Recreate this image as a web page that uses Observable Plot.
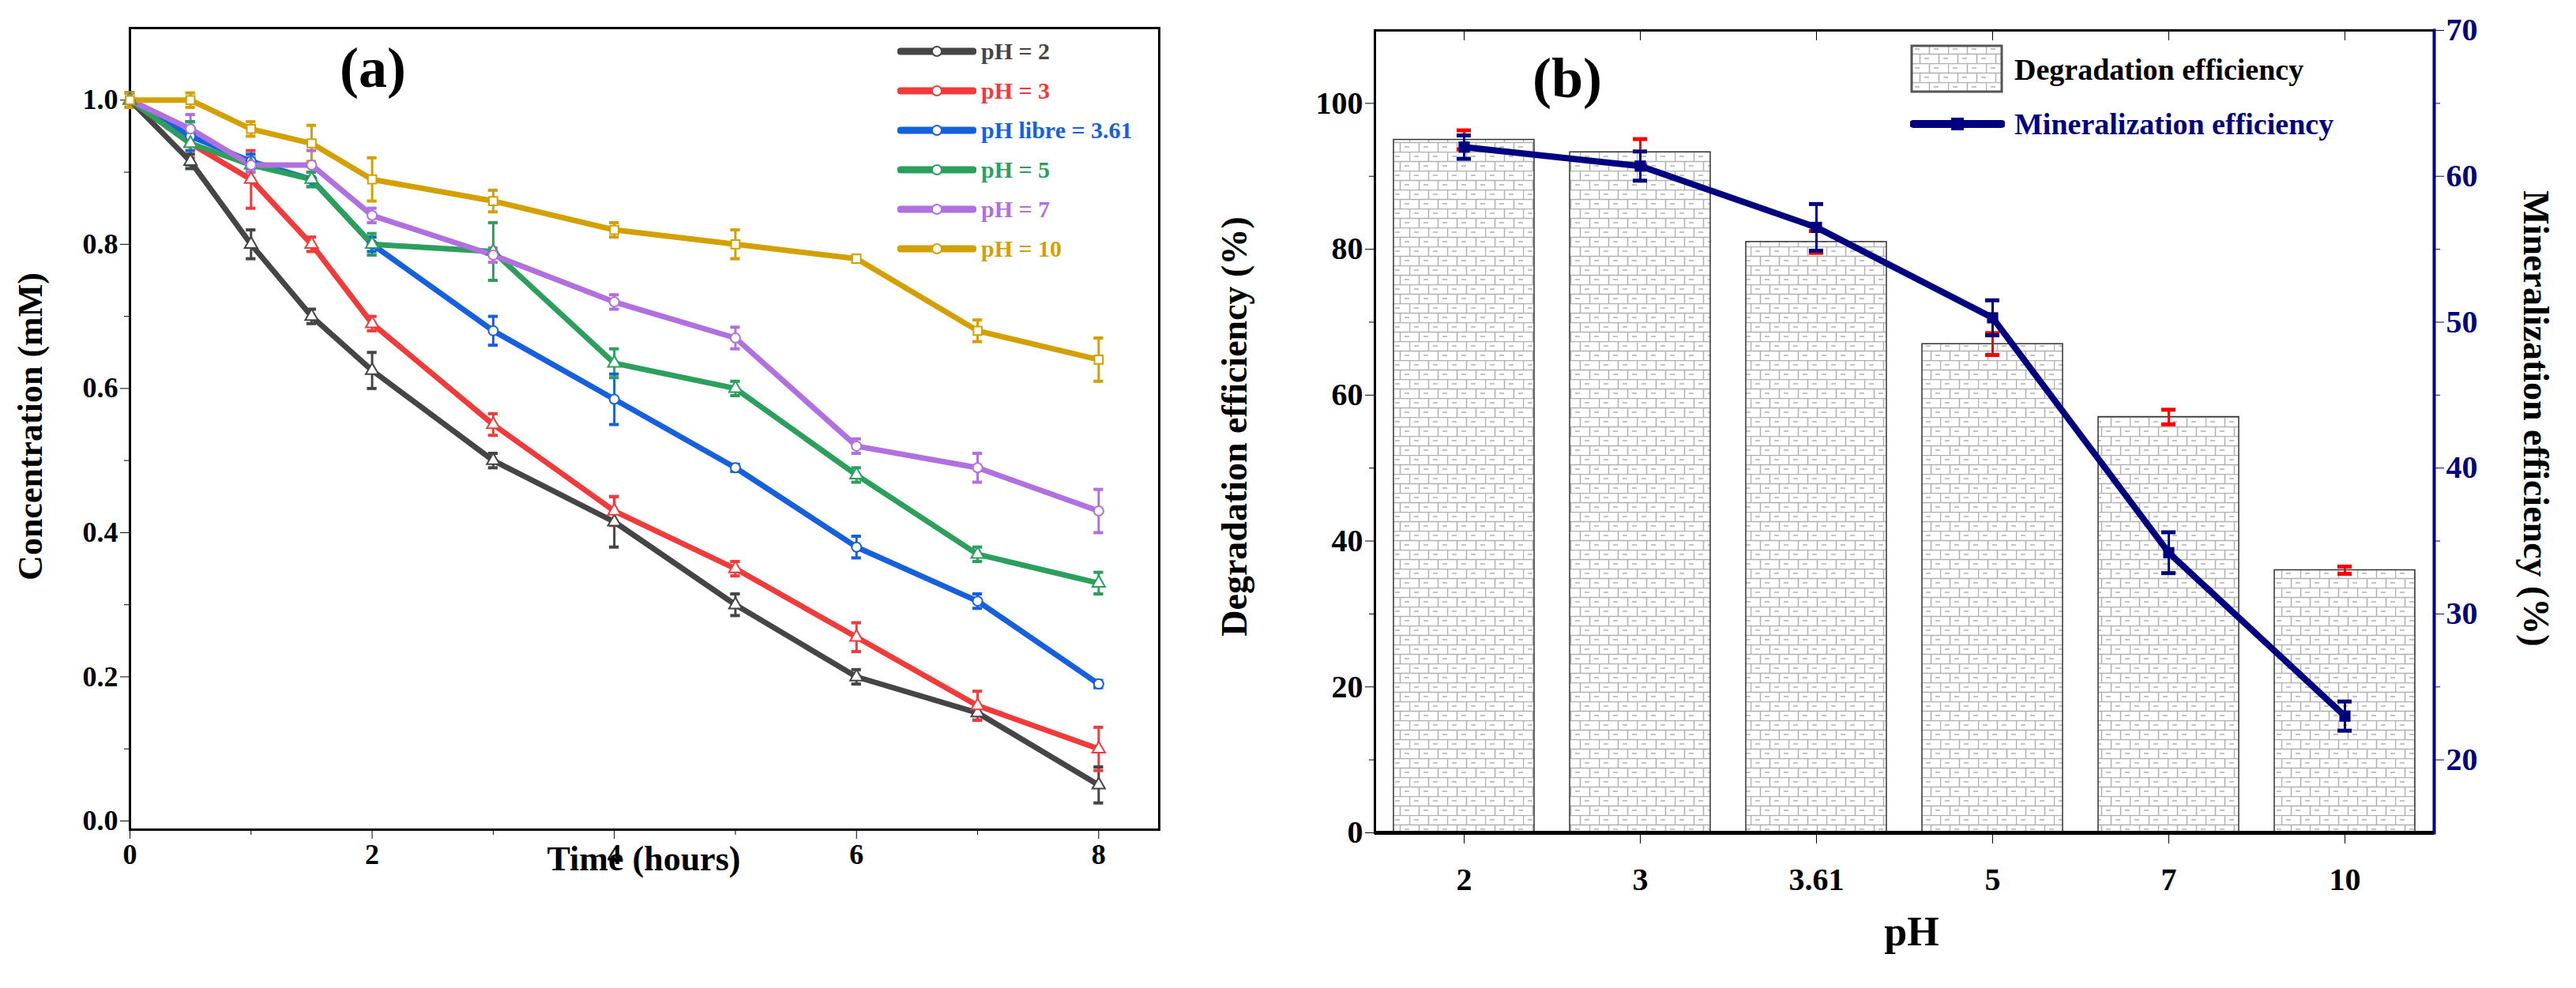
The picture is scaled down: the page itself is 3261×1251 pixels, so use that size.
<!DOCTYPE html>
<html><head><meta charset="utf-8">
<script src="https://cdn.jsdelivr.net/npm/d3@7"></script>
<script src="https://cdn.jsdelivr.net/npm/@observablehq/plot@0.6"></script>
<style>
body{margin:0;background:#fff;width:3261px;height:1251px;position:relative;overflow:hidden;font-family:"Liberation Serif","DejaVu Serif",serif;}
.p{position:absolute;top:0}
.lg{position:absolute;font-weight:bold;white-space:nowrap}
</style></head><body>
<div id="a" class="p" style="left:0"></div>
<div id="b" class="p" style="left:1640px"></div>
<script>
const times = [0,0.5,1,1.5,2,3,4,5,6,7,8];
const seriesNames = ["pH = 2","pH = 3","pH libre = 3.61","pH = 5","pH = 7","pH = 10"];
const seriesColors = ["#454545","#f23a3a","#1560e0","#2aa05c","#b070e0","#d4a000"];
const seriesSymbols = ["triangle","triangle","circle","triangle","circle","square"];
const conc = [
 [1.0,0.915,0.80,0.70,0.625,0.50,0.415,0.30,0.20,0.15,0.05],
 [1.0,0.94,0.89,0.80,0.69,0.55,0.43,0.35,0.255,0.16,0.10],
 [1.0,0.95,0.915,0.89,0.80,0.68,0.585,0.49,0.38,0.305,0.19],
 [1.0,0.94,0.91,0.89,0.80,0.79,0.635,0.60,0.48,0.37,0.33],
 [1.0,0.96,0.91,0.91,0.84,0.785,0.72,0.67,0.52,0.49,0.43],
 [1.0,1.0,0.96,0.94,0.89,0.86,0.82,0.80,0.78,0.68,0.64]
];
const concErr = [
 [0.01,0.01,0.02,0.01,0.025,0.01,0.035,0.015,0.01,0.01,0.025],
 [0.01,0.02,0.04,0.01,0.01,0.015,0.02,0.01,0.02,0.02,0.03],
 [0.01,0.02,0.01,0.01,0.01,0.02,0.035,0.005,0.015,0.01,0.005],
 [0.01,0.03,0.01,0.01,0.015,0.04,0.02,0.01,0.01,0.01,0.015],
 [0.01,0.02,0.01,0.02,0.01,0.01,0.01,0.015,0.01,0.02,0.03],
 [0.01,0.01,0.01,0.025,0.03,0.015,0.01,0.02,0.005,0.015,0.03]
];
const phLabels = ["2","3","3.61","5","7","10"];
const degradation = [95,93.3,81,67,57,36];
const degradationErr = [1.3,1.8,1.5,1.5,1.0,0.5];
const mineralization = [62,60.7,56.5,50.3,34.2,23];
const mineralizationErr = [0.8,1.0,1.6,1.2,1.4,1.0];
const rightTicks = [20,30,40,50,60,70];

const F = '"Liberation Serif","DejaVu Serif",serif';
// ---------- panel a
const rowsA = [];
seriesNames.forEach((s,i)=>times.forEach((t,j)=>rowsA.push({s,i,t,c:conc[i][j],e:concErr[i][j]})));
const pa = Plot.plot({
  width:1640, height:1251, marginLeft:164, marginRight:173, marginTop:35, marginBottom:201,
  style:{fontFamily:F, fontWeight:"bold", color:"#000", background:"#fff"},
  x:{domain:[0,8.5]},
  y:{domain:[-0.012,1.1]},
  color:{domain:seriesNames, range:seriesColors},
  marks:[
    Plot.frame({stroke:"#000", strokeWidth:3}),
    Plot.axisX({ticks:[0,2,4,6,8], fontSize:36, tickSize:12, tickPadding:6, label:null}),
    Plot.axisX({ticks:[1,3,5,7], tickSize:7, tickFormat:()=>"", label:null}),
    Plot.axisY({ticks:[0,0.2,0.4,0.6,0.8,1.0], tickFormat:d3.format(".1f"), fontSize:36, tickSize:12, label:null}),
    Plot.axisY({ticks:[0.1,0.3,0.5,0.7,0.9], tickSize:7, tickFormat:()=>"", label:null}),
    Plot.ruleX(rowsA,{x:"t", y1:d=>d.c-d.e, y2:d=>d.c+d.e, stroke:"s", strokeWidth:3}),
    Plot.ruleY(rowsA,{y:d=>d.c-d.e, x1:d=>d.t-0.04, x2:d=>d.t+0.04, stroke:"s", strokeWidth:4}),
    Plot.ruleY(rowsA,{y:d=>d.c+d.e, x1:d=>d.t-0.04, x2:d=>d.t+0.04, stroke:"s", strokeWidth:4}),
    Plot.line(rowsA,{x:"t", y:"c", z:"s", stroke:"s", strokeWidth:7}),
    Plot.dot(rowsA,{x:"t", y:"c", stroke:"s", fill:"#fff", r:6, strokeWidth:2, symbol:d=>seriesSymbols[d.i]})
  ]
});
document.getElementById("a").append(pa);

// ---------- panel b
const rowsB = phLabels.map((p,i)=>({p,d:degradation[i],de:degradationErr[i],m:mineralization[i],me:mineralizationErr[i]}));
const toLeft = m => (m-15)*2;
const pb = Plot.plot({
  width:1621, height:1251, marginLeft:100, marginRight:180, marginTop:38, marginBottom:197,
  style:{fontFamily:F, fontWeight:"bold", color:"#000", background:"#fff"},
  x:{domain:phLabels, paddingInner:0.2, paddingOuter:0.1, align:0.5, axis:null},
  y:{domain:[0,110], axis:null},
  marks:[
    Plot.barY(rowsB,{x:"p", y:"d", fill:"url(#brick)", stroke:"#333", strokeWidth:1.5}),
    Plot.frame({stroke:"#000", strokeWidth:3}),
    Plot.ruleY([0],{stroke:"#000", strokeWidth:5}),
    Plot.axisX({fontSize:40, tickSize:14, tickPadding:30, label:null}),
    Plot.axisX({anchor:"top", tickSize:-12, tickFormat:()=>"", label:null}),
    Plot.axisY({ticks:[0,20,40,60,80,100], tickSize:12, fontSize:40, label:null}),
    Plot.axisY({ticks:[10,30,50,70,90], tickSize:7, tickFormat:()=>"", label:null}),
    Plot.frame({anchor:"right", stroke:"#000080", strokeWidth:4}),
    Plot.axisY({anchor:"right", ticks:rightTicks.map(toLeft), tickFormat:v=>v/2+15, tickSize:12, stroke:"#000080", color:"#000080", fill:"#000080", fontSize:40, label:null}),
    Plot.axisY({anchor:"right", ticks:[25,35,45,55,65].map(toLeft), tickFormat:()=>"", tickSize:7, stroke:"#000080", label:null}),
    Plot.ruleX(rowsB,{x:"p", y1:d=>d.d-d.de, y2:d=>d.d+d.de, stroke:"#ff0000", strokeWidth:3}),
    Plot.tickY(rowsB,{x:"p", y:d=>d.d-d.de, insetLeft:80, insetRight:80, stroke:"#ff0000", strokeWidth:5}),
    Plot.tickY(rowsB,{x:"p", y:d=>d.d+d.de, insetLeft:80, insetRight:80, stroke:"#ff0000", strokeWidth:5}),
    Plot.line(rowsB,{x:"p", y:d=>toLeft(d.m), stroke:"#000080", strokeWidth:8}),
    Plot.ruleX(rowsB,{x:"p", y1:d=>toLeft(d.m-d.me), y2:d=>toLeft(d.m+d.me), stroke:"#000080", strokeWidth:3}),
    Plot.tickY(rowsB,{x:"p", y:d=>toLeft(d.m-d.me), insetLeft:80, insetRight:80, stroke:"#000080", strokeWidth:5}),
    Plot.tickY(rowsB,{x:"p", y:d=>toLeft(d.m+d.me), insetLeft:80, insetRight:80, stroke:"#000080", strokeWidth:5}),
    Plot.dot(rowsB,{x:"p", y:d=>toLeft(d.m), symbol:"square", fill:"#000080", r:8})
  ]
});
const svgB = d3.select(pb.tagName.toLowerCase()==="svg"?pb:pb.querySelector("svg"));
const pat = svgB.insert("defs",":first-child").append("pattern")
  .attr("id","brick").attr("patternUnits","userSpaceOnUse").attr("width",48).attr("height",24);
pat.append("rect").attr("width",48).attr("height",24).attr("fill","#fff");
pat.append("path").attr("d","M0 0.5H48M0 12.5H48M0.5 0V12M24.5 0V12M12.5 12V24M36.5 12V24M6 6H12M30 6H36M18 18H24M42 18H48")
  .attr("stroke","#b0b0b0").attr("stroke-width",1.5).attr("fill","none");
document.getElementById("b").append(pb);

// ---------- texts / legends
const add = (html, style) => { const d=document.createElement("div"); d.className="lg"; d.style.cssText=style; d.innerHTML=html; document.body.append(d); return d; };
add("(a)","left:430px;top:45px;font-size:72px;");
add("(b)","left:1940px;top:58px;font-size:72px;");
add("Concentration (mM)","left:38px;top:540px;font-size:44px;transform:translate(-50%,-50%) rotate(-90deg);");
add("Time (hours)","left:815px;top:1062px;font-size:44px;transform:translateX(-50%);");
add("Degradation efficiency (%)","left:1562px;top:540px;font-size:46px;transform:translate(-50%,-50%) rotate(-90deg);");
add("Mineralization efficiency (%)","left:3210px;top:530px;font-size:46px;transform:translate(-50%,-50%) rotate(90deg);");
add("pH","left:2420px;top:1150px;font-size:52px;transform:translateX(-50%);");
seriesNames.forEach((s,i)=>{
  const y = 48 + i*50;
  add(`<svg width="100" height="30" style="vertical-align:middle"><line x1="4" x2="96" y1="15" y2="15" stroke="${seriesColors[i]}" stroke-width="9" stroke-linecap="round"/><circle cx="50" cy="15" r="6" fill="#fff" stroke="${seriesColors[i]}" stroke-width="2"/></svg><span style="color:${seriesColors[i]};font-size:30px;vertical-align:middle;margin-left:6px">${s}</span>`,
    `left:1136px;top:${y}px;`);
});
add(`<svg width="120" height="64" style="vertical-align:middle"><rect x="2" y="2" width="114" height="58" fill="url(#brick)" stroke="#555" stroke-width="3"/></svg><span style="font-size:38px;vertical-align:middle;margin-left:12px">Degradation efficiency</span>`,"left:2418px;top:56px;");
add(`<svg width="120" height="30" style="vertical-align:middle"><line x1="4" x2="116" y1="15" y2="15" stroke="#000080" stroke-width="10" stroke-linecap="round"/><rect x="52" y="7" width="16" height="16" fill="#000080"/></svg><span style="font-size:38px;color:#000080;vertical-align:middle;margin-left:12px">Mineralization efficiency</span>`,"left:2418px;top:135px;");
</script>
</body></html>
